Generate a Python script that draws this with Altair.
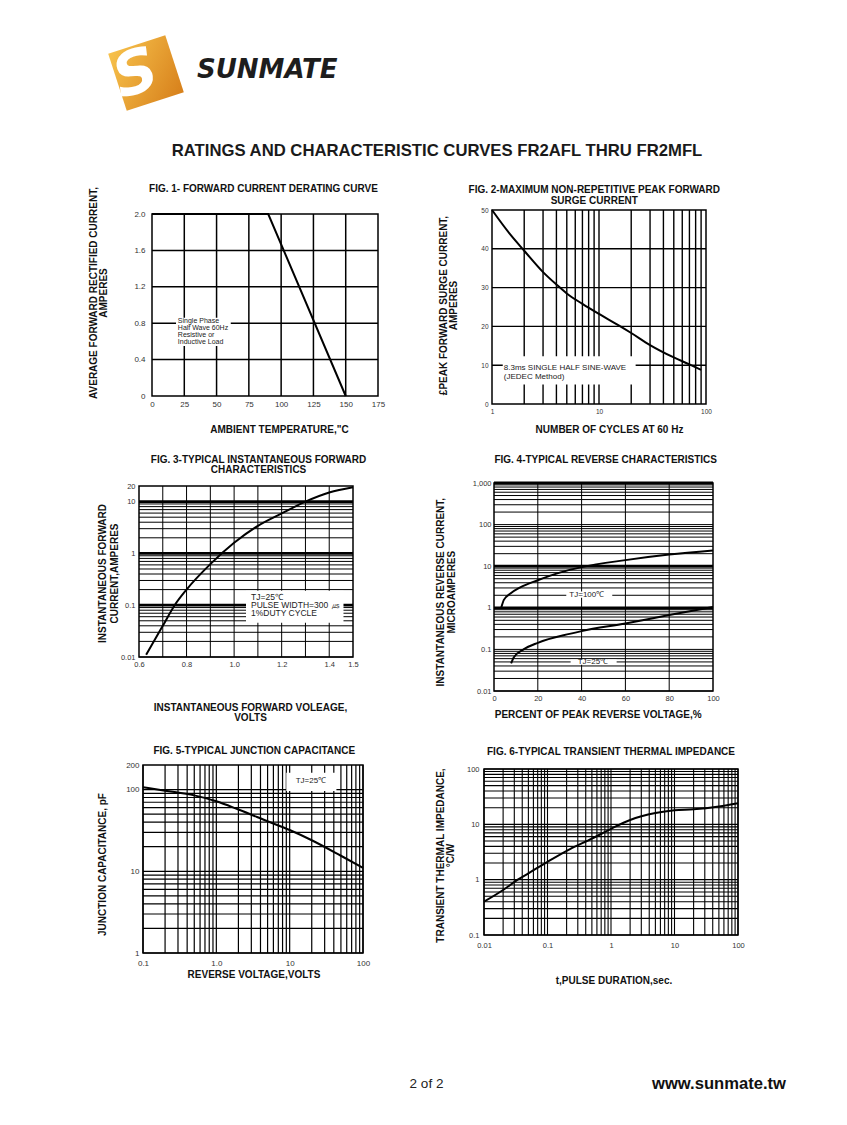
import altair as alt
import pandas as pd

FONT = "Liberation Sans"
INK = "#111111"
LABEL_INK = "#333333"
NOTE_INK = "#222222"

# ---------------- page texts ----------------
PAGE_TITLE = "RATINGS AND CHARACTERISTIC CURVES FR2AFL THRU FR2MFL"
BRAND = "SUNMATE"
LOGO_LETTER = "S"
PAGE_NO = "2 of 2"
WEBSITE = "www.sunmate.tw"

# ---------------- FIG. 1 ----------------
f1_title = ["FIG. 1- FORWARD CURRENT DERATING CURVE"]
f1_xtitle = 'AMBIENT TEMPERATURE,"C'
f1_ytitle = ["AVERAGE FORWARD RECTIFIED CURRENT,", "AMPERES"]
f1_xdom = [0, 175]
f1_ydom = [0, 2.0]
f1_temp = [0, 90, 150]
f1_current = [2.0, 2.0, 0.0]
f1_xlab_at = [0, 25, 50, 75, 100, 125, 150, 175]
f1_xlabs = ["0", "25", "50", "75", "100", "125", "150", "175"]
f1_ylab_at = [0, 0.4, 0.8, 1.2, 1.6, 2.0]
f1_ylabs = ["0", "0.4", "0.8", "1.2", "1.6", "2.0"]
f1_xgrid = [25, 50, 75, 100, 125, 150]
f1_ygrid = [0.4, 0.8, 1.2, 1.6]
f1_note = ["Single Phase", "Half Wave 60Hz", "Resistive or", "Inductive Load"]
f1_note_at = [20.0, 0.824]
f1_box = [18.6, 61.0, 0.55, 0.86]

# ---------------- FIG. 2 ----------------
f2_title = ["FIG. 2-MAXIMUM NON-REPETITIVE PEAK FORWARD", "SURGE CURRENT"]
f2_xtitle = "NUMBER OF CYCLES AT 60 Hz"
f2_ytitle = ["£PEAK  FORWARD SURGE CURRENT,", "AMPERES"]
f2_xdom = [1, 100]
f2_ydom = [0, 50]
f2_cycles = [1, 1.5, 2, 3, 4, 5, 7, 10, 15, 20, 30, 50, 70, 90]
f2_amps = [50, 43.5, 39.5, 34.0, 30.8, 28.5, 25.8, 23.2, 20.4, 18.3, 15.2, 12.0, 10.2, 8.8]
f2_xlab_at = [1, 10, 100]
f2_xlabs = ["1", "10", "100"]
f2_ylab_at = [0, 10, 20, 30, 40, 50]
f2_ylabs = ["0", "10", "20", "30", "40", "50"]
f2_xgrid = [2, 3, 4, 5, 6, 7, 8, 9, 10, 20, 30, 40, 50, 60, 70, 80, 90]
f2_ygrid = [10, 20, 30, 40]
f2_note = ["8.3ms SINGLE HALF SINE-WAVE", "(JEDEC Method)"]
f2_note_at = [1.29, 9.2]
f2_box = [1.26, 22.0, 5.0, 12.3]

# ---------------- FIG. 3 ----------------
f3_title = ["FIG. 3-TYPICAL INSTANTANEOUS FORWARD", "CHARACTERISTICS"]
f3_xtitle = ["INSTANTANEOUS FORWARD VOLEAGE,", "VOLTS"]
f3_ytitle = ["INSTANTANEOUS FORWARD", "CURRENT,AMPERES"]
f3_xdom = [0.6, 1.5]
f3_ydom = [0.01, 20]
f3_volts = [0.63, 0.70, 0.75, 0.80, 0.90, 1.00, 1.10, 1.20, 1.30, 1.40, 1.50]
f3_amps = [0.011, 0.04, 0.10, 0.20, 0.62, 1.6, 3.4, 5.9, 10, 15, 19]
f3_xlab_at = [0.6, 0.8, 1.0, 1.2, 1.4, 1.5]
f3_xlabs = ["0.6", "0.8", "1.0", "1.2", "1.4", "1.5"]
f3_ylab_at = [0.01, 0.1, 1, 10, 20]
f3_ylabs = ["0.01", "0.1", "1", "10", "20"]
f3_xgrid = [0.7, 0.8, 0.9, 1.0, 1.1, 1.2, 1.3, 1.4]
f3_ythick = [0.1, 1, 10]
f3_note = ["TJ=25℃", "PULSE WIDTH=300 ㎲", "1%DUTY CYCLE"]
f3_note_at = [1.071, 0.146]
f3_box = [1.05, 1.46, 0.046, 0.19]

# ---------------- FIG. 4 ----------------
f4_title = ["FIG. 4-TYPICAL REVERSE CHARACTERISTICS"]
f4_xtitle = "PERCENT OF PEAK REVERSE VOLTAGE,%"
f4_ytitle = ["INSTANTANEOUS REVERSE CURRENT,", "MICROAMPERES"]
f4_xdom = [0, 100]
f4_ydom = [0.01, 1000]
f4_pct_100 = [3.3, 4.5, 7.5, 12, 20, 30, 40, 60, 80, 100]
f4_ua_100 = [1.0, 1.55, 2.2, 3.1, 4.6, 7.0, 9.5, 14, 19, 24]
f4_pct_25 = [7.8, 9, 13.5, 20, 34.5, 40, 60, 80, 100]
f4_ua_25 = [0.046, 0.064, 0.10, 0.144, 0.236, 0.275, 0.42, 0.67, 1.05]
f4_xlab_at = [0, 20, 40, 60, 80, 100]
f4_xlabs = ["0", "20", "40", "60", "80", "100"]
f4_ylab_at = [0.01, 0.1, 1, 10, 100, 1000]
f4_ylabs = ["0.01", "0.1", "1", "10", "100", "1,000"]
f4_xgrid = [20, 40, 60, 80]
f4_ythick = [1, 10, 1000]
f4_note_100 = ["TJ=100℃"]
f4_note_100_at = [34.4, 2.05]
f4_box_100 = [33.0, 54.0, 1.75, 2.45]
f4_note_25 = ["TJ=25℃"]
f4_note_25_at = [38.2, 0.05]
f4_box_25 = [35.0, 56.0, 0.043, 0.057]

# ---------------- FIG. 5 ----------------
f5_title = ["FIG. 5-TYPICAL JUNCTION CAPACITANCE"]
f5_xtitle = "REVERSE VOLTAGE,VOLTS"
f5_ytitle = "JUNCTION CAPACITANCE, pF"
f5_xdom = [0.1, 100]
f5_ydom = [1, 200]
f5_volts = [0.1, 0.2, 0.5, 1, 2, 5, 10, 20, 50, 100]
f5_pf = [107, 97, 85, 72, 57, 41, 32, 24, 15.5, 11]
f5_xlab_at = [0.1, 1, 10, 100]
f5_xlabs = ["0.1", "1.0", "10", "100"]
f5_ylab_at = [1, 10, 100, 200]
f5_ylabs = ["1", "10", "100", "200"]
f5_note = ["TJ=25℃"]
f5_note_at = [19.5, 127]
f5_box = [9.0, 43.4, 96, 161]

# ---------------- FIG. 6 ----------------
f6_title = ["FIG. 6-TYPICAL TRANSIENT THERMAL IMPEDANCE"]
f6_xtitle = "t,PULSE DURATION,sec."
f6_ytitle = ["TRANSIENT THERMAL IMPEDANCE,", "°C/W"]
f6_xdom = [0.01, 100]
f6_ydom = [0.1, 100]
f6_sec = [0.01, 0.02, 0.034, 0.05, 0.1, 0.23, 0.5, 1, 2, 5, 10, 20, 50, 100]
f6_cw = [0.4, 0.65, 1.0, 1.3, 2.1, 3.6, 5.5, 8.3, 12, 16, 18, 18.7, 21, 24]
f6_xlab_at = [0.01, 0.1, 1, 10, 100]
f6_xlabs = ["0.01", "0.1", "1", "10", "100"]
f6_ylab_at = [0.1, 1, 10, 100]
f6_ylabs = ["0.1", "1", "10", "100"]


def log_lines(lo, hi):
    out = []
    for e in range(lo, hi):
        for m in range(1, 10):
            out.append(float(f"{m}e{e}"))
    out.append(float(f"1e{hi}"))
    return out


def label_expr(vals, texts):
    parts = [f"datum.value == {float(v)!r} ? '{t}'" for v, t in zip(vals, texts)]
    return " : ".join(parts) + " : ''"


def one_row():
    return pd.DataFrame({"k": [0]})


def figure(*, ox, oy, w, h, cell_w, xtype, ytype, xdom, ydom,
           xlab_at, xlabs, ylab_at, ylabs, lab_size, xpad, ypad,
           xtitle, ytitle, xt, yt, xlh, ylh,
           xgrid, ygrid, grid_w, ythick=(), thick_w=2.8,
           curves=(), boxes=(), notes=(), title=(), title_xy=(0, 0), title_lh=10.5):
    xsc = alt.Scale(type=xtype, domain=xdom, range=[ox, ox + w], nice=False)
    ysc = alt.Scale(type=ytype, domain=ydom, range=[oy + h, oy], nice=False)
    common = dict(grid=False, ticks=False, tickSize=0, domain=False, labelFont=FONT,
                  labelColor=LABEL_INK, labelFontSize=lab_size, labelOverlap=False,
                  labelFlush=False, titleFont=FONT, titleFontSize=10, titleFontWeight="bold",
                  titleColor=INK, titleAlign="center", titleBaseline="middle")
    xax = alt.Axis(values=xlab_at, labelExpr=label_expr(xlab_at, xlabs), labelPadding=xpad,
                   title=xtitle, titleX=xt[0], titleY=xt[1], titleAngle=0,
                   titleLineHeight=xlh, **common)
    yax = alt.Axis(values=ylab_at, labelExpr=label_expr(ylab_at, ylabs), labelPadding=ypad,
                   title=ytitle, titleX=yt[0], titleY=yt[1], titleAngle=270,
                   titleLineHeight=ylh, offset=-ox, **common)

    def X(f):
        return alt.X(f, type="quantitative", scale=xsc, axis=xax)

    def Y(f):
        return alt.Y(f, type="quantitative", scale=ysc, axis=yax)

    layers = []
    vg = pd.DataFrame({"gx": xgrid, "lo": [ydom[0]] * len(xgrid), "hi": [ydom[1]] * len(xgrid)})
    layers.append(alt.Chart(vg).mark_rule(color="black", strokeWidth=grid_w)
                  .encode(x=X("gx"), y=Y("lo"), y2="hi"))
    hg = pd.DataFrame({"gy": ygrid, "lo": [xdom[0]] * len(ygrid), "hi": [xdom[1]] * len(ygrid)})
    layers.append(alt.Chart(hg).mark_rule(color="black", strokeWidth=grid_w)
                  .encode(y=Y("gy"), x=X("lo"), x2="hi"))
    if ythick:
        tg = pd.DataFrame({"gy": list(ythick), "lo": [xdom[0]] * len(ythick),
                           "hi": [xdom[1]] * len(ythick)})
        layers.append(alt.Chart(tg).mark_rule(color="black", strokeWidth=thick_w)
                      .encode(y=Y("gy"), x=X("lo"), x2="hi"))
    for b in boxes:
        bd = pd.DataFrame({"bx": [b[0]], "bx2": [b[1]], "by": [b[2]], "by2": [b[3]]})
        layers.append(alt.Chart(bd).mark_rect(color="white", opacity=1)
                      .encode(x=X("bx"), x2="bx2", y=Y("by"), y2="by2"))
    for (at, lines, size, lh, align) in notes:
        nd = pd.DataFrame({"nx": [at[0]], "ny": [at[1]], "t": ["\n".join(lines)]})
        layers.append(alt.Chart(nd).mark_text(font=FONT, fontSize=size, lineHeight=lh,
                                              lineBreak="\n", align=align, baseline="middle",
                                              color=NOTE_INK)
                      .encode(x=X("nx"), y=Y("ny"), text="t:N"))
    fr = pd.DataFrame({"fx": [xdom[0]], "fx2": [xdom[1]], "fy": [ydom[0]], "fy2": [ydom[1]]})
    layers.append(alt.Chart(fr).mark_rect(filled=False, stroke="black", strokeWidth=1.5)
                  .encode(x=X("fx"), x2="fx2", y=Y("fy"), y2="fy2"))
    for xs, ys, interp in curves:
        cd = pd.DataFrame({"cx": xs, "cy": ys})
        layers.append(alt.Chart(cd).mark_line(color="black", strokeWidth=2, interpolate=interp)
                      .encode(x=X("cx"), y=Y("cy")))
    td = pd.DataFrame({"t": ["\n".join(title)]})
    layers.append(alt.Chart(td).mark_text(font=FONT, fontSize=10, fontWeight="bold", color=INK,
                                          align="center", baseline="middle", lineBreak="\n",
                                          lineHeight=title_lh)
                  .encode(x=alt.value(title_xy[0]), y=alt.value(title_xy[1]), text="t:N"))
    return alt.layer(*layers).properties(width=cell_w, height=oy + h)


fig1 = figure(ox=143, oy=4, w=226, h=182, cell_w=400, xtype="linear", ytype="linear",
              xdom=f1_xdom, ydom=f1_ydom, xlab_at=f1_xlab_at, xlabs=f1_xlabs,
              ylab_at=f1_ylab_at, ylabs=f1_ylabs, lab_size=8, xpad=4, ypad=7,
              xtitle=f1_xtitle, ytitle=f1_ytitle, xt=(270, 33), yt=(-58.5, 82.5), xlh=10, ylh=10,
              xgrid=f1_xgrid, ygrid=f1_ygrid, grid_w=1.5,
              curves=[(f1_temp, f1_current, "linear")], boxes=[f1_box],
              notes=[(f1_note_at, f1_note, 7, 7, "left")],
              title=f1_title, title_xy=(254.5, -21))

fig2 = figure(ox=83, oy=0, w=214, h=194, cell_w=300, xtype="log", ytype="linear",
              xdom=f2_xdom, ydom=f2_ydom, xlab_at=f2_xlab_at, xlabs=f2_xlabs,
              ylab_at=f2_ylab_at, ylabs=f2_ylabs, lab_size=6.5, xpad=4, ypad=4,
              xtitle=f2_xtitle, ytitle=f2_ytitle, xt=(200, 25.3), yt=(-48.5, 95), xlh=10, ylh=9.5,
              xgrid=f2_xgrid, ygrid=f2_ygrid, grid_w=1.4,
              curves=[(f2_cycles, f2_amps, "monotone")], boxes=[f2_box],
              notes=[(f2_note_at, f2_note, 8, 9, "left")],
              title=f2_title, title_xy=(185.3, -20))

fig3 = figure(ox=130, oy=82, w=214, h=171, cell_w=400, xtype="linear", ytype="log",
              xdom=f3_xdom, ydom=f3_ydom, xlab_at=f3_xlab_at, xlabs=f3_xlabs,
              ylab_at=f3_ylab_at, ylabs=f3_ylabs, lab_size=7.5, xpad=3.5, ypad=4,
              xtitle=f3_xtitle, ytitle=f3_ytitle, xt=(241, 50), yt=(-36.5, 169), xlh=10, ylh=12,
              xgrid=f3_xgrid, ygrid=log_lines(-2, 1), grid_w=1.0, ythick=f3_ythick,
              curves=[(f3_volts, f3_amps, "monotone")], boxes=[f3_box],
              notes=[(f3_note_at, f3_note, 8.5, 8.4, "left")],
              title=f3_title, title_xy=(249.5, 56), title_lh=10)

fig4 = figure(ox=85, oy=79, w=219, h=208, cell_w=310, xtype="linear", ytype="log",
              xdom=f4_xdom, ydom=f4_ydom, xlab_at=f4_xlab_at, xlabs=f4_xlabs,
              ylab_at=f4_ylab_at, ylabs=f4_ylabs, lab_size=7.5, xpad=3.5, ypad=3,
              xtitle=f4_xtitle, ytitle=f4_ytitle, xt=(188.7, 23.3), yt=(-53.5, 187.7), xlh=10, ylh=11,
              xgrid=f4_xgrid, ygrid=log_lines(-2, 3), grid_w=1.0, ythick=f4_ythick,
              curves=[(f4_pct_100, f4_ua_100, "monotone"), (f4_pct_25, f4_ua_25, "monotone")],
              boxes=[f4_box_100, f4_box_25],
              notes=[(f4_note_100_at, f4_note_100, 8, 9, "left"),
                     (f4_note_25_at, f4_note_25, 8, 9, "left")],
              title=f4_title, title_xy=(196.7, 56.3))

fig5 = figure(ox=134, oy=74, w=220, h=188, cell_w=400, xtype="log", ytype="log",
              xdom=f5_xdom, ydom=f5_ydom, xlab_at=f5_xlab_at, xlabs=f5_xlabs,
              ylab_at=f5_ylab_at, ylabs=f5_ylabs, lab_size=8, xpad=6, ypad=4,
              xtitle=f5_xtitle, ytitle=f5_ytitle, xt=(244.5, 21.3), yt=(-41, 173), xlh=10, ylh=10,
              xgrid=log_lines(-1, 2), ygrid=log_lines(0, 2), grid_w=1.2,
              curves=[(f5_volts, f5_pf, "monotone")], boxes=[f5_box],
              notes=[(f5_note_at, f5_note, 8, 9, "center")],
              title=f5_title, title_xy=(245.3, 60))

fig6 = figure(ox=75, oy=78, w=254, h=166, cell_w=335, xtype="log", ytype="log",
              xdom=f6_xdom, ydom=f6_ydom, xlab_at=f6_xlab_at, xlabs=f6_xlabs,
              ylab_at=f6_ylab_at, ylabs=f6_ylabs, lab_size=7.5, xpad=6.5, ypad=5,
              xtitle=f6_xtitle, ytitle=f6_ytitle, xt=(204.5, 45.3), yt=(-44, 164), xlh=10, ylh=10.5,
              xgrid=log_lines(-2, 2), ygrid=log_lines(-1, 2), grid_w=1.1,
              curves=[(f6_sec, f6_cw, "monotone")],
              title=f6_title, title_xy=(202, 60.7))

# ---------------- header ----------------
base = alt.Chart(one_row())
grad = alt.LinearGradient(
    gradient="linear",
    stops=[alt.GradientStop(color="#F7C24C", offset=0), alt.GradientStop(color="#D7801B", offset=1)],
    x1=0, x2=1, y1=0, y2=1)
logo = base.mark_point(shape="square", filled=True, fill=grad, size=3600, angle=342,
                       opacity=1, strokeWidth=0).encode(x=alt.value(137), y=alt.value(64))
letter = base.mark_text(text=LOGO_LETTER, font="DejaVu Sans", fontSize=60, fontWeight="bold",
                        fontStyle="italic", color="white", align="center", baseline="middle",
                        angle=342).encode(x=alt.value(127), y=alt.value(66))
brand = base.mark_text(text=BRAND, font="DejaVu Sans", fontSize=26, fontWeight="bold",
                       fontStyle="italic", color="#1d1d1d", align="left",
                       baseline="middle").encode(x=alt.value(188), y=alt.value(61))
ptitle = base.mark_text(text=PAGE_TITLE, font=FONT, fontSize=16.7, fontWeight="bold",
                        color="#1a1a1a", align="center",
                        baseline="middle").encode(x=alt.value(428), y=alt.value(142))
header = alt.layer(logo, letter, brand, ptitle).properties(width=400, height=201)

blank = base.mark_point(opacity=0, size=0, strokeWidth=0).encode(
    x=alt.value(5), y=alt.value(5)).properties(width=10, height=10)

# ---------------- footer ----------------
pno = base.mark_text(text=PAGE_NO, font=FONT, fontSize=13.5, color="#222222", align="center",
                     baseline="middle").encode(x=alt.value(417.5), y=alt.value(131))
web = base.mark_text(text=WEBSITE, font=FONT, fontSize=16.6, fontWeight="bold", color="#111111",
                     align="center", baseline="middle").encode(x=alt.value(710), y=alt.value(131))
footer = alt.layer(pno, web).properties(width=400, height=165)

chart = alt.concat(header, blank, fig1, fig2, fig3, fig4, fig5, fig6, footer,
                   columns=2, spacing=0, bounds="flush", align="each").properties(
    padding=0, background="white").configure_view(stroke="transparent")

chart.save("out.html", embed_options={"renderer": "svg", "actions": False})
